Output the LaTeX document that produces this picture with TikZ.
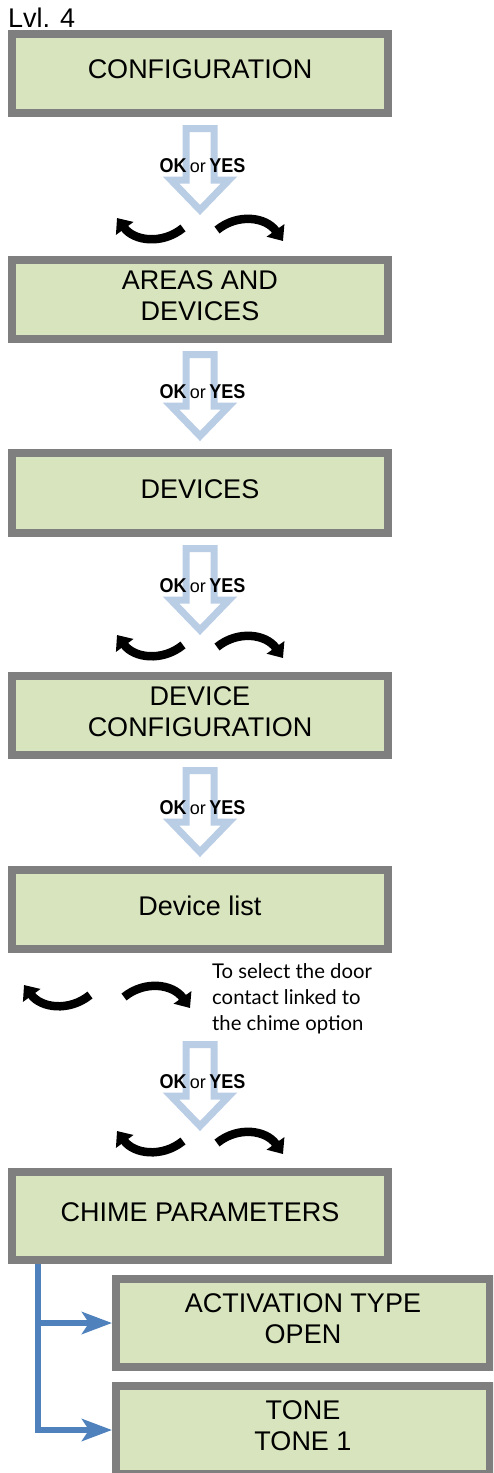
\documentclass[tikz,border=0pt]{standalone}
\usepackage{fontspec}
\setmainfont{Liberation Sans}
\newfontfamily\latofont{Lato}
\newfontfamily\narrowbold[FakeStretch=0.9]{Liberation Sans Bold}
\usetikzlibrary{arrows.meta}
\definecolor{boxfill}{HTML}{D7E4BD}
\definecolor{boxgrey}{HTML}{7F7F7F}
\definecolor{arrowblue}{HTML}{B9CDE5}
\definecolor{connblue}{HTML}{4F81BD}
\tikzset{
  screen/.style={draw=boxgrey, fill=boxfill, line width=8pt, minimum width=376pt,
    minimum height=79pt, inner sep=0pt, align=center, text depth=8pt,
    font=\fontsize{27}{31}\selectfont},
  okyes/.style={font=\fontsize{20}{20}\selectfont, inner sep=0pt, anchor=base},
  hollow/.style={draw=arrowblue, line width=7pt, line join=miter},
  curv/.style={line width=8.5pt, -{Triangle[length=13pt,width=21pt]}},
  conn/.style={draw=connblue, line width=6pt, line join=miter,
    -{Stealth[length=30pt,width=22pt,inset=7pt]}},
  pics/hollowdown/.style={code={
    \draw[hollow] (-14,3.5) -- (14,3.5) -- (14,55) -- (29,55) -- (0,85)
      -- (-29,55) -- (-14,55) -- cycle;}},
  pics/swing/.style={code={
    \draw[curv] (-17,-1) .. controls (-38,16) and (-66,12) .. (-83,-11);
    \draw[curv] (17,1) .. controls (38,-16) and (66,-12) .. (83,12);}}
}
\newcommand{\okyestext}{{\narrowbold OK}\,{\fontsize{18}{18}\selectfont or}\,{\narrowbold YES}}
\begin{document}
\begin{tikzpicture}[x=1pt,y=-1pt]
\useasboundingbox (0,0) rectangle (493,1473);
\clip (0,0) rectangle (493,1473);

\node[anchor=base west, inner sep=0pt, font=\fontsize{27}{27}\selectfont] (lvl) at (8,27) {Lvl. 4};

\node[screen] (b1) at (200,73.5) {CONFIGURATION};
\node[screen] (b2) at (200,299.5) {AREAS AND\\DEVICES};
\node[screen, minimum height=80pt] (b3) at (200,493) {DEVICES};
\node[screen] (b4) at (200,715.5) {DEVICE\\CONFIGURATION};
\node[screen] (b5) at (200,909.5) {Device list};
\node[screen, minimum height=88pt] (b6) at (200,1216) {CHIME PARAMETERS};
\node[screen, minimum width=374pt, minimum height=88pt] (b7) at (303,1323) {ACTIVATION TYPE\\OPEN};
\node[screen, minimum width=374pt, minimum height=88pt] (b8) at (303,1430) {TONE\\TONE 1};

% step 1
\pic at ([yshift=-8pt]b1.south) {hollowdown};
\node[okyes] (ok1) at ([xshift=2.5pt,yshift=-55pt]b1.south) {\okyestext};
\pic at (200,229) {swing};

% step 2
\pic at ([yshift=-8pt]b2.south) {hollowdown};
\node[okyes] (ok2) at ([xshift=2.5pt,yshift=-55pt]b2.south) {\okyestext};

% step 3
\pic at ([yshift=-8pt]b3.south) {hollowdown};
\node[okyes] (ok3) at ([xshift=2.5pt,yshift=-55pt]b3.south) {\okyestext};
\pic at (200,646) {swing};

% step 4
\pic at ([yshift=-8pt]b4.south) {hollowdown};
\node[okyes] (ok4) at ([xshift=2.5pt,yshift=-55pt]b4.south) {\okyestext};

% device list selection
\pic at (107,996) {swing};
\node[anchor=base west, inner sep=0pt, align=left,
  font=\latofont\fontsize{20.3}{26}\selectfont] (note) at (212,1030)
  {To select the door\\contact linked to\\the chime option};

% step 5
\pic at (200,1041) {hollowdown};
\node[okyes] (ok5) at (202.5,1088) {\okyestext};
\pic at (200,1142) {swing};

% branches
\draw[conn] ([xshift=30pt]b6.south west) |- (b7.west);
\draw[conn] ([xshift=30pt]b6.south west) |- (b8.west);
\end{tikzpicture}
\end{document}
